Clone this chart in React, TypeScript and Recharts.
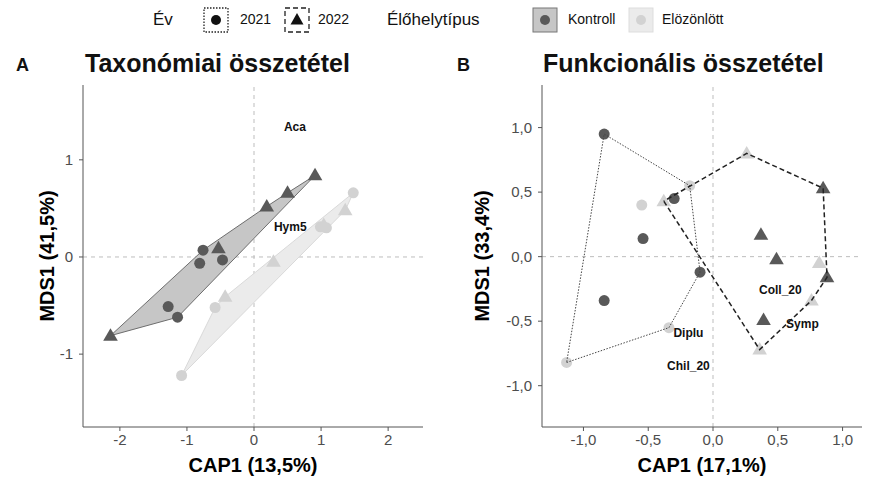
import React from 'react';
import { ScatterChart, Scatter, XAxis, YAxis, ReferenceLine, Label } from 'recharts';

type Pt = [number, number];

// A: Taxonómiai összetétel
const taxKontroll2021: Pt[] = [[-0.76, 0.07], [-0.81, -0.065], [-0.47, -0.03], [-1.28, -0.51], [-1.14, -0.62]];
const taxKontroll2022: Pt[] = [[-2.14, -0.81], [0.19, 0.52], [0.5, 0.66], [0.91, 0.84], [-0.53, 0.09]];
const taxElozonlott2021: Pt[] = [[1.48, 0.66], [0.99, 0.31], [1.08, 0.3], [-0.58, -0.52], [-1.08, -1.22]];
const taxElozonlott2022: Pt[] = [[1.36, 0.48], [1.04, 0.33], [0.29, -0.05], [-0.43, -0.41]];
const taxLabels = [
  { name: 'Aca', x: 0.61, y: 1.34 },
  { name: 'Hym5', x: 0.54, y: 0.31 },
];

// B: Funkcionális összetétel
const funKontroll2021: Pt[] = [[-0.84, 0.95], [-0.3, 0.45], [-0.54, 0.14], [-0.1, -0.12], [-0.84, -0.34]];
const funElozonlott2021: Pt[] = [[-0.18, 0.55], [-0.55, 0.4], [-0.34, -0.55], [-1.13, -0.82]];
const funKontroll2022: Pt[] = [[0.85, 0.53], [0.37, 0.17], [0.49, -0.02], [0.88, -0.16], [0.39, -0.49]];
const funElozonlott2022: Pt[] = [[0.26, 0.8], [-0.38, 0.43], [0.82, -0.05], [0.76, -0.34], [0.36, -0.72]];
const funLabels = [
  { name: 'Coll_20', x: 0.52, y: -0.26 },
  { name: 'Symp', x: 0.69, y: -0.52 },
  { name: 'Diplu', x: -0.19, y: -0.59 },
  { name: 'Chil_20', x: -0.19, y: -0.85 },
];

const taxXTicks = [-2, -1, 0, 1, 2];
const taxYTicks = [-1, 0, 1];
const funXTicks = [-1, -0.5, 0, 0.5, 1];
const funYTicks = [-1, -0.5, 0, 0.5, 1];

const DARK = '#595959';
const LIGHT = '#d2d2d2';
const FONT = "'Liberation Sans', Arial, sans-serif";

const toObj = (pts: Pt[]) => pts.map(([x, y]) => ({ x, y }));

// convex hull (monotone chain), closed
const hull = (pts: Pt[]) => {
  const p = [...pts].sort((a, b) => a[0] - b[0] || a[1] - b[1]);
  const cross = (o: Pt, a: Pt, b: Pt) => (a[0] - o[0]) * (b[1] - o[1]) - (a[1] - o[1]) * (b[0] - o[0]);
  const lower: Pt[] = [];
  for (const q of p) {
    while (lower.length >= 2 && cross(lower[lower.length - 2], lower[lower.length - 1], q) <= 0) lower.pop();
    lower.push(q);
  }
  const upper: Pt[] = [];
  for (const q of [...p].reverse()) {
    while (upper.length >= 2 && cross(upper[upper.length - 2], upper[upper.length - 1], q) <= 0) upper.pop();
    upper.push(q);
  }
  const h = lower.slice(0, -1).concat(upper.slice(0, -1));
  return toObj([...h, h[0]]);
};

const nothing = () => <g />;
const circle = (fill: string) => (p: any) => <circle cx={p.cx} cy={p.cy} r={5.5} fill={fill} />;
const triangle = (fill: string) => (p: any) => (
  <path d={`M${p.cx},${p.cy - 7.5} L${p.cx + 7.3},${p.cy + 5} L${p.cx - 7.3},${p.cy + 5} Z`} fill={fill} />
);
const textMark = (p: any) => (
  <text x={p.cx} y={p.cy} textAnchor="middle" dominantBaseline="central" fontWeight="bold" fontSize={12} fontFamily={FONT} fill="#111">
    {p.payload.name}
  </text>
);

const tick = { fill: '#4d4d4d', fontSize: 15, fontFamily: FONT };
const comma = (v: number) => v.toFixed(1).replace('.', ',');

const xTitle = (text: string) => (props: any) => {
  const { x, y, width, height } = props.viewBox;
  return (
    <text x={x + width / 2} y={y + height + 8} textAnchor="middle" dominantBaseline="central" fontWeight="bold" fontSize={20} fontFamily={FONT} fill="#000">
      {text}
    </text>
  );
};
const yTitle = (text: string, dx: number) => (props: any) => {
  const { x, y, height } = props.viewBox;
  const cx = x + dx;
  const cy = y + height / 2;
  return (
    <text x={cx} y={cy} transform={`rotate(-90 ${cx} ${cy})`} textAnchor="middle" dominantBaseline="central" fontWeight="bold" fontSize={20} fontFamily={FONT} fill="#000">
      {text}
    </text>
  );
};

const refProps = { stroke: '#bdbdbd', strokeDasharray: '4 4', strokeWidth: 1 };

const TaxChart = () => (
  <ScatterChart width={440} height={481} margin={{ top: 85, right: 17, bottom: 24, left: 43 }}>
    <XAxis type="number" dataKey="x" domain={[-2.55, 2.52]} ticks={taxXTicks} allowDataOverflow height={30}
      stroke="#555" tickSize={4} tick={tick} tickMargin={3}>
      <Label content={xTitle('CAP1 (13,5%)')} />
    </XAxis>
    <YAxis type="number" dataKey="y" domain={[-1.75, 1.77]} ticks={taxYTicks} allowDataOverflow width={40}
      stroke="#555" tickSize={4} tick={tick} tickMargin={6}>
      <Label content={yTitle('MDS1 (41,5%)', 4)} />
    </YAxis>
    <ReferenceLine x={0} {...refProps} />
    <ReferenceLine y={0} {...refProps} />
    <Scatter data={hull([...taxKontroll2021, ...taxKontroll2022])} shape={nothing} isAnimationActive={false}
      line={{ stroke: '#6e6e6e', fill: '#c6c6c6', strokeWidth: 1 }} lineJointType="linear" />
    <Scatter data={hull([...taxElozonlott2021, ...taxElozonlott2022])} shape={nothing} isAnimationActive={false}
      line={{ stroke: '#d9d9d9', fill: '#ebebeb', strokeWidth: 1 }} lineJointType="linear" />
    <Scatter data={toObj(taxElozonlott2021)} shape={circle(LIGHT)} isAnimationActive={false} />
    <Scatter data={toObj(taxElozonlott2022)} shape={triangle(LIGHT)} isAnimationActive={false} />
    <Scatter data={toObj(taxKontroll2021)} shape={circle(DARK)} isAnimationActive={false} />
    <Scatter data={toObj(taxKontroll2022)} shape={triangle(DARK)} isAnimationActive={false} />
    <Scatter data={taxLabels} shape={textMark} isAnimationActive={false} />
  </ScatterChart>
);

const FunChart = () => (
  <ScatterChart width={429} height={481} margin={{ top: 85, right: 7, bottom: 24, left: 52 }}>
    <XAxis type="number" dataKey="x" domain={[-1.32, 1.15]} ticks={funXTicks} allowDataOverflow height={30}
      stroke="#555" tickSize={4} tick={tick} tickMargin={3} tickFormatter={comma}>
      <Label content={xTitle('CAP1 (17,1%)')} />
    </XAxis>
    <YAxis type="number" dataKey="y" domain={[-1.32, 1.33]} ticks={funYTicks} allowDataOverflow width={50}
      stroke="#555" tickSize={4} tick={tick} tickMargin={6} tickFormatter={comma}>
      <Label content={yTitle('MDS1 (33,4%)', -10)} />
    </YAxis>
    <ReferenceLine x={0} {...refProps} />
    <ReferenceLine y={0} {...refProps} />
    <Scatter data={toObj(funElozonlott2021)} shape={circle(LIGHT)} isAnimationActive={false} />
    <Scatter data={toObj(funElozonlott2022)} shape={triangle(LIGHT)} isAnimationActive={false} />
    <Scatter data={toObj(funKontroll2021)} shape={circle(DARK)} isAnimationActive={false} />
    <Scatter data={toObj(funKontroll2022)} shape={triangle(DARK)} isAnimationActive={false} />
    <Scatter data={hull([...funKontroll2021, ...funElozonlott2021])} shape={nothing} isAnimationActive={false}
      line={{ stroke: '#444', fill: 'none', strokeWidth: 1, strokeDasharray: '1.5 1.5' }} lineJointType="linear" />
    <Scatter data={hull([...funKontroll2022, ...funElozonlott2022])} shape={nothing} isAnimationActive={false}
      line={{ stroke: '#222', fill: 'none', strokeWidth: 1.5, strokeDasharray: '5 3' }} lineJointType="linear" />
    <Scatter data={funLabels} shape={textMark} isAnimationActive={false} />
  </ScatterChart>
);

const txt = (left: number, top: number, size: number, bold = false): React.CSSProperties => ({
  position: 'absolute', left, top, fontSize: size, lineHeight: 1, fontFamily: FONT,
  fontWeight: bold ? 'bold' : 'normal', color: '#111', whiteSpace: 'nowrap',
});

const Key = ({ left, border, bg, dash, children }: any) => (
  <svg style={{ position: 'absolute', left, top: 7 }} width={26} height={26}>
    <rect x={1} y={1} width={24} height={24} fill={bg} stroke={border} strokeWidth={dash ? 1.3 : 1} strokeDasharray={dash} />
    {children}
  </svg>
);

const Legend = () => (
  <>
    <div style={txt(153, 11, 17)}>Év</div>
    <Key left={203} border="#222" bg="#fff" dash="1.5 1.5">
      <circle cx={13} cy={13} r={5} fill="#111" />
    </Key>
    <div style={txt(240, 12, 14)}>2021</div>
    <Key left={284} border="#222" bg="#fff" dash="5 3">
      <path d="M13,6 L19.5,17.5 L6.5,17.5 Z" fill="#111" />
    </Key>
    <div style={txt(318, 12, 14)}>2022</div>
    <div style={txt(387, 11, 17)}>Élőhelytípus</div>
    <Key left={532} border="#777" bg="#c6c6c6">
      <circle cx={13} cy={13} r={5} fill={DARK} />
    </Key>
    <div style={txt(568, 12, 14)}>Kontroll</div>
    <Key left={628} border="#ddd" bg="#ebebeb">
      <circle cx={13} cy={13} r={5} fill={LIGHT} />
    </Key>
    <div style={txt(662, 12, 14)}>Elözönlött</div>
  </>
);

export default function App() {
  return (
    <div style={{ position: 'absolute', left: 0, top: 0, width: 869, height: 481, background: '#fff', overflow: 'hidden' }}>
      <Legend />
      <div style={txt(16, 56, 18, true)}>A</div>
      <div style={txt(85, 51, 25, true)}>Taxonómiai összetétel</div>
      <div style={txt(457, 56, 18, true)}>B</div>
      <div style={txt(543, 51, 25, true)}>Funkcionális összetétel</div>
      <div style={{ position: 'absolute', left: 0, top: 0 }}>
        <TaxChart />
      </div>
      <div style={{ position: 'absolute', left: 440, top: 0 }}>
        <FunChart />
      </div>
    </div>
  );
}
